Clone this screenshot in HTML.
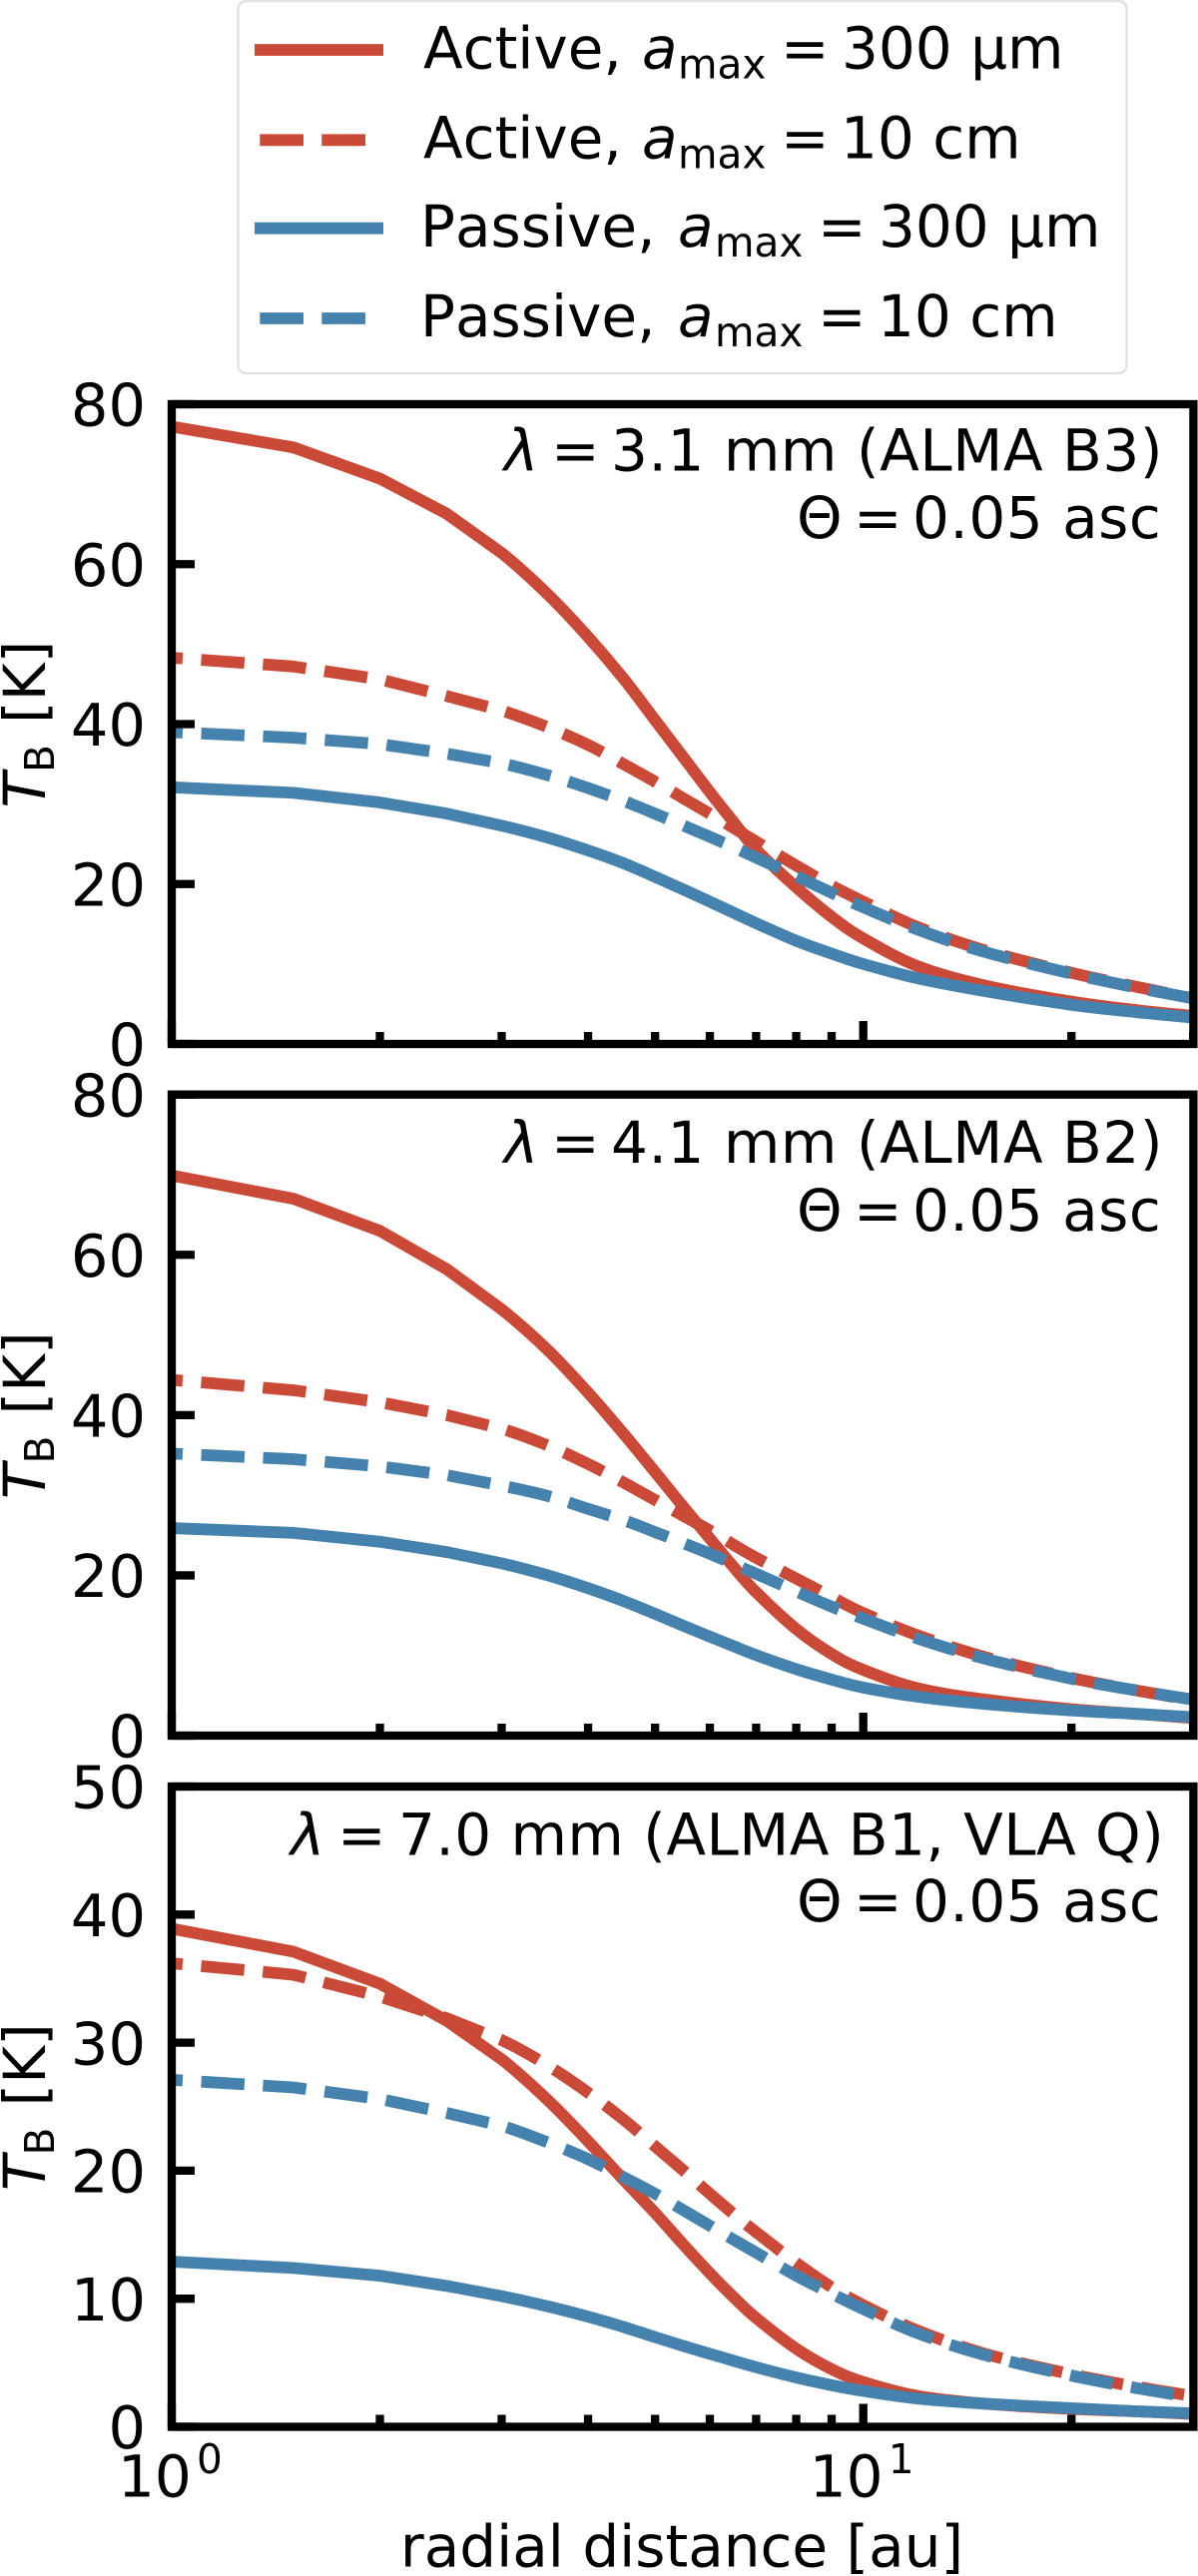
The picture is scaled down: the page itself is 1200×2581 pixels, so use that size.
<!DOCTYPE html>
<html lang="en">
<head>
<meta charset="utf-8">
<title>Brightness temperature vs radial distance</title>
<style>
html,body{margin:0;padding:0;background:#fff;width:1200px;height:2581px;overflow:hidden}
svg{display:block}
text{font-family:"DejaVu Sans","Liberation Sans",sans-serif;font-size:58px;fill:#000;font-kerning:none}
.it{font-style:italic}
.sub{font-size:40.6px}
.wide{letter-spacing:.55px}
.wide-long{letter-spacing:.45px}
.wider{letter-spacing:.5px}
</style>
</head>
<body>
<svg id="chart" xmlns="http://www.w3.org/2000/svg" width="1200" height="2581" viewBox="0 0 1200 2581">
  <rect x="0" y="0" width="1200" height="2581" fill="#fff"/>

  <g id="panels"></g>

  <g>
    <rect x="238.5" y="1" width="890" height="373" rx="8" ry="8" fill="#fff" stroke="#e2e2e2" stroke-width="2.5"/>
    <line x1="255" y1="50" x2="384" y2="50" stroke="#ca4a37" stroke-width="11.8"/>
    <line x1="260.3" y1="140.3" x2="366.3" y2="140.3" stroke="#ca4a37" stroke-width="11.8" stroke-dasharray="43.7 18.3"/>
    <line x1="255" y1="228.7" x2="384" y2="228.7" stroke="#4682ae" stroke-width="11.8"/>
    <line x1="260.3" y1="319" x2="366.3" y2="319" stroke="#4682ae" stroke-width="11.8" stroke-dasharray="43.7 18.3"/>
    <text y="68.5"><tspan x="424">Active,</tspan><tspan class="it" x="643">a</tspan><tspan class="sub" x="679" dy="10">max</tspan><tspan x="782" dy="-10">=</tspan><tspan x="843">300 μm</tspan></text>
    <text y="158.5"><tspan x="424">Active,</tspan><tspan class="it" x="643">a</tspan><tspan class="sub" x="679" dy="10">max</tspan><tspan x="782" dy="-10">=</tspan><tspan x="842">10 cm</tspan></text>
    <text y="247"><tspan x="421">Passive,</tspan><tspan class="it" x="679">a</tspan><tspan class="sub" x="716" dy="10">max</tspan><tspan x="819" dy="-10">=</tspan><tspan x="880">300 μm</tspan></text>
    <text y="337"><tspan x="421">Passive,</tspan><tspan class="it" x="679">a</tspan><tspan class="sub" x="716" dy="10">max</tspan><tspan x="819" dy="-10">=</tspan><tspan x="879">10 cm</tspan></text>
  </g>

  <g>
    <text y="471.5"><tspan class="it" x="505">λ</tspan><tspan x="552">=</tspan><tspan class="wide" x="612">3.1 mm (ALMA B3)</tspan></text>
    <text y="539"><tspan x="798">Θ</tspan><tspan x="855">=</tspan><tspan class="wider" x="914">0.05 asc</tspan></text>
    <text y="1165"><tspan class="it" x="505">λ</tspan><tspan x="552">=</tspan><tspan class="wide" x="612">4.1 mm (ALMA B2)</tspan></text>
    <text y="1233"><tspan x="798">Θ</tspan><tspan x="855">=</tspan><tspan class="wider" x="914">0.05 asc</tspan></text>
    <text y="1858.5"><tspan class="it" x="291">λ</tspan><tspan x="338">=</tspan><tspan class="wide-long" x="399">7.0 mm (ALMA B1, VLA Q)</tspan></text>
    <text y="1925"><tspan x="798">Θ</tspan><tspan x="855">=</tspan><tspan class="wider" x="914">0.05 asc</tspan></text>
    <text x="683" y="2571.5" text-anchor="middle">radial distance [au]</text>
  </g>
</svg>

<script>
// ---- data ----
var radii = [1,1.5,2,2.5,3,3.5,4,4.5,5,5.5,6,6.5,7,8,9,10,12,15,20,25,30];

var b3ActiveSmall  = [77.2,74.6,70.7,66.3,61.4,56.2,50.9,45.7,40.5,35.8,31.5,27.7,24.3,19.6,15.9,13.2,9.7,7.3,5.3,4.2,3.5];
var b3ActiveLarge  = [48.3,47.2,45.6,43.5,41.7,39.6,37.4,35.0,32.8,30.7,28.8,27.0,25.3,22.3,19.8,17.8,14.6,11.7,8.9,7.1,5.7];
var b3PassiveSmall = [32.1,31.4,30.2,28.8,27.3,25.8,24.2,22.6,20.9,19.3,17.8,16.4,15.1,12.9,11.3,10.0,8.2,6.6,4.9,3.95,3.3];
var b3PassiveLarge = [39.0,38.3,37.5,36.3,35.1,33.6,32.0,30.4,28.8,27.3,25.9,24.6,23.3,21.0,18.9,17.1,14.3,11.5,8.8,7.0,5.7];

var b2ActiveSmall  = [69.9,67.0,63.0,58.2,53.2,48.1,42.8,37.7,32.9,28.5,24.6,21.0,17.9,13.3,10.2,8.2,5.9,4.5,3.3,2.7,2.2];
var b2ActiveLarge  = [44.4,43.1,41.6,40.0,38.3,36.2,33.9,31.6,29.4,27.4,25.6,23.8,22.2,19.6,17.3,15.3,12.5,9.8,7.2,5.6,4.4];
var b2PassiveSmall = [25.9,25.3,24.2,22.9,21.5,20.0,18.4,16.8,15.2,13.7,12.35,11.15,10.05,8.3,7.0,6.0,4.85,3.95,3.15,2.7,2.3];
var b2PassiveLarge = [35.2,34.5,33.6,32.5,31.2,29.9,28.3,26.9,25.4,24.0,22.7,21.4,20.2,18.0,16.1,14.6,12.1,9.6,7.1,5.6,4.5];

var b1ActiveSmall  = [38.9,37.1,34.6,31.7,28.7,25.5,22.3,19.3,16.7,14.2,12.0,10.1,8.5,6.1,4.5,3.5,2.4,1.8,1.4,1.2,1.0];
var b1ActiveLarge  = [36.2,35.3,33.6,31.9,30.2,28.2,26.1,24.0,21.9,20.0,18.2,16.6,15.2,12.8,10.9,9.5,7.5,5.7,4.1,3.1,2.4];
var b1PassiveSmall = [12.9,12.4,11.8,11.0,10.2,9.4,8.6,7.8,7.0,6.3,5.7,5.15,4.65,3.85,3.25,2.8,2.2,1.8,1.45,1.2,1.05];
var b1PassiveLarge = [27.1,26.5,25.6,24.5,23.5,22.2,20.9,19.5,18.2,16.9,15.7,14.6,13.6,11.8,10.4,9.2,7.3,5.6,4.0,3.0,2.3];

var yTicksB3 = [0,20,40,60,80];
var yTicksB2 = [0,20,40,60,80];
var yTicksB1 = [0,10,20,30,40,50];
var xMajorTicks = [1,10];
var xMinorTicks = [2,3,4,5,6,7,8,9,20,30];
var xTickExponents = ["0","1"];

// ---- layout ----
var SVG_NS = 'http://www.w3.org/2000/svg';
var X_LEFT = 172, X_RIGHT = 1195.4, DECADE = 692.7;
var RED = '#ca4a37', BLUE = '#4682ae';
var LINE_W = 11.8, AXIS_W = 8.3;
var KINKED_POINTS = 5;

var panelDefs = [
  {key:'b3', top:405, bottom:1046, yMax:80, yTicks:yTicksB3, titleY:725.5,
   series:[b3ActiveSmall,b3ActiveLarge,b3PassiveSmall,b3PassiveLarge], xLabels:false},
  {key:'b2', top:1096.7, bottom:1739, yMax:80, yTicks:yTicksB2, titleY:1418,
   series:[b2ActiveSmall,b2ActiveLarge,b2PassiveSmall,b2PassiveLarge], xLabels:false},
  {key:'b1', top:1790, bottom:2431.5, yMax:50, yTicks:yTicksB1, titleY:2111,
   series:[b1ActiveSmall,b1ActiveLarge,b1PassiveSmall,b1PassiveLarge], xLabels:true}
];
var seriesNames = ['active-300um','active-10cm','passive-300um','passive-10cm'];
var seriesColors = [RED,RED,BLUE,BLUE];
var seriesDashed = [false,true,false,true];

function xScale(r){ return X_LEFT + DECADE * Math.log10(r); }
function yScale(p, v){ return p.bottom - (p.bottom - p.top) * v / p.yMax; }

function make(tag, attrs, parent){
  var el = document.createElementNS(SVG_NS, tag);
  for (var k in attrs) { el.setAttribute(k, attrs[k]); }
  parent.appendChild(el);
  return el;
}

// straight segments for the coarse inner samples, smooth cubic segments after that
function curvePath(p, values){
  var pts = values.map(function(v, j){ return [xScale(radii[j]), yScale(p, v)]; });
  var d = 'M' + pts[0][0].toFixed(2) + ' ' + pts[0][1].toFixed(2);
  for (var i = 1; i < pts.length; i++) {
    if (i < KINKED_POINTS) {
      d += 'L' + pts[i][0].toFixed(2) + ' ' + pts[i][1].toFixed(2);
    } else {
      var a = pts[i - 2], b = pts[i - 1], c = pts[i], e = pts[Math.min(i + 1, pts.length - 1)];
      var c1x = b[0] + (c[0] - a[0]) / 6, c1y = b[1] + (c[1] - a[1]) / 6;
      var c2x = c[0] - (e[0] - b[0]) / 6, c2y = c[1] - (e[1] - b[1]) / 6;
      d += 'C' + c1x.toFixed(2) + ' ' + c1y.toFixed(2) + ' ' + c2x.toFixed(2) + ' ' + c2y.toFixed(2) + ' ' + c[0].toFixed(2) + ' ' + c[1].toFixed(2);
    }
  }
  return d;
}

var root = document.getElementById('panels');
var defs = make('defs', {}, root);

panelDefs.forEach(function(p){
  var group = make('g', {}, root);
  
  

  var clip = make('clipPath', {id:'clip-' + p.key}, defs);
  make('rect', {x:X_LEFT, y:p.top, width:X_RIGHT - X_LEFT, height:p.bottom - p.top}, clip);

  // series
  p.series.forEach(function(values, i){
    var line = make('path', {
      d: curvePath(p, values), fill:'none', stroke:seriesColors[i], 'stroke-width':LINE_W,
      'stroke-linejoin':'round', 'clip-path':'url(#clip-' + p.key + ')'
    }, group);
    if (seriesDashed[i]) {
      line.setAttribute('stroke-dasharray', '43.4 18.6');
      line.setAttribute('stroke-dashoffset', '32.4');
    }
    
    
  });

  // y ticks and labels
  p.yTicks.forEach(function(t){
    var y = yScale(p, t);
    var tick = make('line', {x1:X_LEFT, x2:195, y1:y, y2:y, stroke:'#000', 'stroke-width':AXIS_W}, group);
    
    
    var label = make('text', {x:146, y:y + 21.7, 'text-anchor':'end', style:'font-size:59px'}, group);
    label.textContent = String(t);
    
    
  });

  // x ticks
  xMajorTicks.forEach(function(t, i){
    var x = xScale(t);
    var tick = make('line', {x1:x, x2:x, y1:p.bottom, y2:p.bottom - 23, stroke:'#000', 'stroke-width':AXIS_W}, group);
    
    
    if (p.xLabels) {
      var label = make('text', {x:x - 54, y:2501.5}, group);
      
      
      var base = make('tspan', {}, label);
      base.textContent = '10';
      var sup = make('tspan', {'class':'sub', x:x + 25, dy:-23.5}, label);
      sup.textContent = xTickExponents[i];
    }
  });
  xMinorTicks.forEach(function(t){
    var x = xScale(t);
    var tick = make('line', {x1:x, x2:x, y1:p.bottom, y2:p.bottom - 12, stroke:'#000', 'stroke-width':AXIS_W}, group);
    
    
  });

  // frame
  var frame = make('rect', {x:X_LEFT, y:p.top, width:X_RIGHT - X_LEFT, height:p.bottom - p.top,
    fill:'none', stroke:'#000', 'stroke-width':AXIS_W}, group);
  
  

  // y title
  var title = make('text', {transform:'translate(45 ' + p.titleY + ') rotate(-90)'}, group);
  
  
  var tItalic = make('tspan', {'class':'it', x:-84}, title);
  tItalic.textContent = 'T';
  var tSub = make('tspan', {'class':'sub', x:-48.5, dy:9}, title);
  tSub.textContent = 'B';
  var tRest = make('tspan', {x:0.5, dy:-9}, title);
  tRest.textContent = '[K]';
});
</script>
</body>
</html>
